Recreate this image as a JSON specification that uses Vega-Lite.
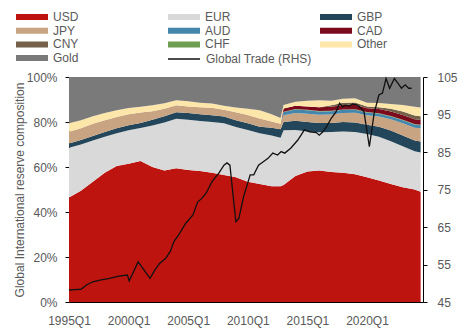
{
  "$schema": "https://vega.github.io/schema/vega-lite/v6.json",
  "width": 354,
  "height": 225,
  "autosize": {"type": "none"},
  "padding": {"left": 69, "top": 77, "right": 53, "bottom": 32},
  "config": {
    "view": {"stroke": null},
    "font": "Liberation Sans",
    "axis": {"labelFont": "Liberation Sans", "labelFontSize": 12, "labelColor": "#595959", "grid": false, "domainColor": "#000000", "tickColor": "#000000", "titleFont": "Liberation Sans", "titleFontSize": 12, "titleColor": "#595959", "titleFontWeight": "normal"},
    "legend": {"labelFont": "Liberation Sans", "labelFontSize": 12, "labelColor": "#595959", "padding": 0}
  },
  "datasets": {
    "meta": [
      {"s": "USD", "o": 1}, {"s": "EUR", "o": 2}, {"s": "GBP", "o": 3}, {"s": "JPY", "o": 4}, {"s": "AUD", "o": 5},
      {"s": "CHF", "o": 6}, {"s": "CAD", "o": 7}, {"s": "CNY", "o": 8}, {"s": "Other", "o": 9}, {"s": "Gold", "o": 10}
    ]
  },
  "encoding": {
    "x": {"field": "t", "type": "quantitative", "scale": {"domain": [1995, 2024.7], "nice": false, "zero": false},
      "axis": {"values": [1995, 2000, 2005, 2010, 2015, 2020], "labelExpr": "datum.value + 'Q1'", "ticks": false, "labelPadding": 13, "labelFlush": false, "title": null}}
  },
  "layer": [
    {
      "data": {"values": [
        {"t":1995,"s":"USD","v":46.5},{"t":1995,"s":"EUR","v":22.1},{"t":1995,"s":"GBP","v":1.9},{"t":1995,"s":"JPY","v":5.2},{"t":1995,"s":"AUD","v":0},{"t":1995,"s":"CHF","v":0},{"t":1995,"s":"CAD","v":0},{"t":1995,"s":"CNY","v":0},{"t":1995,"s":"Other","v":3.7},{"t":1995,"s":"Gold","v":20.6},
        {"t":1996,"s":"USD","v":49.5},{"t":1996,"s":"EUR","v":20.5},{"t":1996,"s":"GBP","v":2},{"t":1996,"s":"JPY","v":5.2},{"t":1996,"s":"AUD","v":0},{"t":1996,"s":"CHF","v":0},{"t":1996,"s":"CAD","v":0},{"t":1996,"s":"CNY","v":0},{"t":1996,"s":"Other","v":3.6},{"t":1996,"s":"Gold","v":19.2},
        {"t":1997,"s":"USD","v":53.5},{"t":1997,"s":"EUR","v":18.3},{"t":1997,"s":"GBP","v":2},{"t":1997,"s":"JPY","v":5.4},{"t":1997,"s":"AUD","v":0},{"t":1997,"s":"CHF","v":0},{"t":1997,"s":"CAD","v":0},{"t":1997,"s":"CNY","v":0},{"t":1997,"s":"Other","v":3.4},{"t":1997,"s":"Gold","v":17.4},
        {"t":1998,"s":"USD","v":57.5},{"t":1998,"s":"EUR","v":16},{"t":1998,"s":"GBP","v":2.1},{"t":1998,"s":"JPY","v":5.2},{"t":1998,"s":"AUD","v":0},{"t":1998,"s":"CHF","v":0},{"t":1998,"s":"CAD","v":0},{"t":1998,"s":"CNY","v":0},{"t":1998,"s":"Other","v":3.2},{"t":1998,"s":"Gold","v":16},
        {"t":1999,"s":"USD","v":60.5},{"t":1999,"s":"EUR","v":14.5},{"t":1999,"s":"GBP","v":2.2},{"t":1999,"s":"JPY","v":5},{"t":1999,"s":"AUD","v":0},{"t":1999,"s":"CHF","v":0},{"t":1999,"s":"CAD","v":0},{"t":1999,"s":"CNY","v":0},{"t":1999,"s":"Other","v":3},{"t":1999,"s":"Gold","v":14.8},
        {"t":2000,"s":"USD","v":61.5},{"t":2000,"s":"EUR","v":14.8},{"t":2000,"s":"GBP","v":2.3},{"t":2000,"s":"JPY","v":4.8},{"t":2000,"s":"AUD","v":0},{"t":2000,"s":"CHF","v":0},{"t":2000,"s":"CAD","v":0},{"t":2000,"s":"CNY","v":0},{"t":2000,"s":"Other","v":2.8},{"t":2000,"s":"Gold","v":13.8},
        {"t":2001,"s":"USD","v":62.7},{"t":2001,"s":"EUR","v":14.6},{"t":2001,"s":"GBP","v":2.3},{"t":2001,"s":"JPY","v":4.6},{"t":2001,"s":"AUD","v":0},{"t":2001,"s":"CHF","v":0},{"t":2001,"s":"CAD","v":0},{"t":2001,"s":"CNY","v":0},{"t":2001,"s":"Other","v":2.6},{"t":2001,"s":"Gold","v":13.2},
        {"t":2002,"s":"USD","v":60},{"t":2002,"s":"EUR","v":18.5},{"t":2002,"s":"GBP","v":2.5},{"t":2002,"s":"JPY","v":3.8},{"t":2002,"s":"AUD","v":0},{"t":2002,"s":"CHF","v":0},{"t":2002,"s":"CAD","v":0},{"t":2002,"s":"CNY","v":0},{"t":2002,"s":"Other","v":2.7},{"t":2002,"s":"Gold","v":12.5},
        {"t":2003,"s":"USD","v":58.5},{"t":2003,"s":"EUR","v":21.3},{"t":2003,"s":"GBP","v":2.8},{"t":2003,"s":"JPY","v":3.3},{"t":2003,"s":"AUD","v":0},{"t":2003,"s":"CHF","v":0},{"t":2003,"s":"CAD","v":0},{"t":2003,"s":"CNY","v":0},{"t":2003,"s":"Other","v":2.4},{"t":2003,"s":"Gold","v":11.7},
        {"t":2004,"s":"USD","v":59.5},{"t":2004,"s":"EUR","v":21.9},{"t":2004,"s":"GBP","v":2.9},{"t":2004,"s":"JPY","v":3.1},{"t":2004,"s":"AUD","v":0},{"t":2004,"s":"CHF","v":0},{"t":2004,"s":"CAD","v":0},{"t":2004,"s":"CNY","v":0},{"t":2004,"s":"Other","v":2.3},{"t":2004,"s":"Gold","v":10.3},
        {"t":2005,"s":"USD","v":58.7},{"t":2005,"s":"EUR","v":22.3},{"t":2005,"s":"GBP","v":3},{"t":2005,"s":"JPY","v":2.9},{"t":2005,"s":"AUD","v":0},{"t":2005,"s":"CHF","v":0},{"t":2005,"s":"CAD","v":0},{"t":2005,"s":"CNY","v":0},{"t":2005,"s":"Other","v":2.3},{"t":2005,"s":"Gold","v":10.8},
        {"t":2006,"s":"USD","v":58.2},{"t":2006,"s":"EUR","v":22.3},{"t":2006,"s":"GBP","v":3},{"t":2006,"s":"JPY","v":3.1},{"t":2006,"s":"AUD","v":0},{"t":2006,"s":"CHF","v":0},{"t":2006,"s":"CAD","v":0},{"t":2006,"s":"CNY","v":0},{"t":2006,"s":"Other","v":2},{"t":2006,"s":"Gold","v":11.4},
        {"t":2007,"s":"USD","v":57.5},{"t":2007,"s":"EUR","v":22.5},{"t":2007,"s":"GBP","v":3},{"t":2007,"s":"JPY","v":3.3},{"t":2007,"s":"AUD","v":0},{"t":2007,"s":"CHF","v":0},{"t":2007,"s":"CAD","v":0},{"t":2007,"s":"CNY","v":0},{"t":2007,"s":"Other","v":1.9},{"t":2007,"s":"Gold","v":11.8},
        {"t":2008,"s":"USD","v":56.5},{"t":2008,"s":"EUR","v":22.9},{"t":2008,"s":"GBP","v":3},{"t":2008,"s":"JPY","v":3},{"t":2008,"s":"AUD","v":0},{"t":2008,"s":"CHF","v":0},{"t":2008,"s":"CAD","v":0},{"t":2008,"s":"CNY","v":0},{"t":2008,"s":"Other","v":1.8},{"t":2008,"s":"Gold","v":12.8},
        {"t":2009,"s":"USD","v":55.5},{"t":2009,"s":"EUR","v":22.3},{"t":2009,"s":"GBP","v":3},{"t":2009,"s":"JPY","v":3.5},{"t":2009,"s":"AUD","v":0},{"t":2009,"s":"CHF","v":0},{"t":2009,"s":"CAD","v":0},{"t":2009,"s":"CNY","v":0},{"t":2009,"s":"Other","v":2.1},{"t":2009,"s":"Gold","v":13.6},
        {"t":2010,"s":"USD","v":53.5},{"t":2010,"s":"EUR","v":23},{"t":2010,"s":"GBP","v":2.9},{"t":2010,"s":"JPY","v":3.7},{"t":2010,"s":"AUD","v":0},{"t":2010,"s":"CHF","v":0},{"t":2010,"s":"CAD","v":0},{"t":2010,"s":"CNY","v":0},{"t":2010,"s":"Other","v":2.8},{"t":2010,"s":"Gold","v":14.1},
        {"t":2011,"s":"USD","v":52.5},{"t":2011,"s":"EUR","v":22.5},{"t":2011,"s":"GBP","v":2.9},{"t":2011,"s":"JPY","v":3.7},{"t":2011,"s":"AUD","v":0},{"t":2011,"s":"CHF","v":0},{"t":2011,"s":"CAD","v":0},{"t":2011,"s":"CNY","v":0},{"t":2011,"s":"Other","v":3.6},{"t":2011,"s":"Gold","v":14.8},
        {"t":2012,"s":"USD","v":51.5},{"t":2012,"s":"EUR","v":22.5},{"t":2012,"s":"GBP","v":3.4},{"t":2012,"s":"JPY","v":2.8},{"t":2012,"s":"AUD","v":0},{"t":2012,"s":"CHF","v":0},{"t":2012,"s":"CAD","v":0},{"t":2012,"s":"CNY","v":0},{"t":2012,"s":"Other","v":3.2},{"t":2012,"s":"Gold","v":16.6},
        {"t":2012.75,"s":"USD","v":51.5},{"t":2012.75,"s":"EUR","v":21.5},{"t":2012.75,"s":"GBP","v":3.8},{"t":2012.75,"s":"JPY","v":2.4},{"t":2012.75,"s":"AUD","v":0},{"t":2012.75,"s":"CHF","v":0},{"t":2012.75,"s":"CAD","v":0},{"t":2012.75,"s":"CNY","v":0},{"t":2012.75,"s":"Other","v":2.6},{"t":2012.75,"s":"Gold","v":18.2},
        {"t":2013,"s":"USD","v":52},{"t":2013,"s":"EUR","v":24.3},{"t":2013,"s":"GBP","v":3.7},{"t":2013,"s":"JPY","v":3},{"t":2013,"s":"AUD","v":1.4},{"t":2013,"s":"CHF","v":0.2},{"t":2013,"s":"CAD","v":1.4},{"t":2013,"s":"CNY","v":0},{"t":2013,"s":"Other","v":1.6},{"t":2013,"s":"Gold","v":12.4},
        {"t":2014,"s":"USD","v":56},{"t":2014,"s":"EUR","v":20.4},{"t":2014,"s":"GBP","v":4.2},{"t":2014,"s":"JPY","v":3.4},{"t":2014,"s":"AUD","v":1.6},{"t":2014,"s":"CHF","v":0.2},{"t":2014,"s":"CAD","v":1.4},{"t":2014,"s":"CNY","v":0},{"t":2014,"s":"Other","v":1.8},{"t":2014,"s":"Gold","v":11},
        {"t":2015,"s":"USD","v":58},{"t":2015,"s":"EUR","v":17.8},{"t":2015,"s":"GBP","v":4.2},{"t":2015,"s":"JPY","v":3.7},{"t":2015,"s":"AUD","v":1.5},{"t":2015,"s":"CHF","v":0.2},{"t":2015,"s":"CAD","v":1.5},{"t":2015,"s":"CNY","v":0},{"t":2015,"s":"Other","v":2.5},{"t":2015,"s":"Gold","v":10.6},
        {"t":2016,"s":"USD","v":58.5},{"t":2016,"s":"EUR","v":17},{"t":2016,"s":"GBP","v":4.1},{"t":2016,"s":"JPY","v":3.6},{"t":2016,"s":"AUD","v":1.5},{"t":2016,"s":"CHF","v":0.2},{"t":2016,"s":"CAD","v":1.7},{"t":2016,"s":"CNY","v":0},{"t":2016,"s":"Other","v":3.1},{"t":2016,"s":"Gold","v":10.3},
        {"t":2017,"s":"USD","v":57.8},{"t":2017,"s":"EUR","v":17.8},{"t":2017,"s":"GBP","v":4},{"t":2017,"s":"JPY","v":3.7},{"t":2017,"s":"AUD","v":1.5},{"t":2017,"s":"CHF","v":0.2},{"t":2017,"s":"CAD","v":1.8},{"t":2017,"s":"CNY","v":0.6},{"t":2017,"s":"Other","v":2},{"t":2017,"s":"Gold","v":10.6},
        {"t":2018,"s":"USD","v":57.5},{"t":2018,"s":"EUR","v":18.3},{"t":2018,"s":"GBP","v":4.2},{"t":2018,"s":"JPY","v":4},{"t":2018,"s":"AUD","v":1.4},{"t":2018,"s":"CHF","v":0.2},{"t":2018,"s":"CAD","v":2},{"t":2018,"s":"CNY","v":1},{"t":2018,"s":"Other","v":1.7},{"t":2018,"s":"Gold","v":9.7},
        {"t":2019,"s":"USD","v":56.8},{"t":2019,"s":"EUR","v":18.8},{"t":2019,"s":"GBP","v":4.2},{"t":2019,"s":"JPY","v":4.3},{"t":2019,"s":"AUD","v":1.4},{"t":2019,"s":"CHF","v":0.2},{"t":2019,"s":"CAD","v":2},{"t":2019,"s":"CNY","v":1},{"t":2019,"s":"Other","v":1.9},{"t":2019,"s":"Gold","v":9.4},
        {"t":2020,"s":"USD","v":55.5},{"t":2020,"s":"EUR","v":19.2},{"t":2020,"s":"GBP","v":4.1},{"t":2020,"s":"JPY","v":4.2},{"t":2020,"s":"AUD","v":1.2},{"t":2020,"s":"CHF","v":0.2},{"t":2020,"s":"CAD","v":1.7},{"t":2020,"s":"CNY","v":0.8},{"t":2020,"s":"Other","v":1.7},{"t":2020,"s":"Gold","v":11.4},
        {"t":2021,"s":"USD","v":54},{"t":2021,"s":"EUR","v":19.5},{"t":2021,"s":"GBP","v":4.4},{"t":2021,"s":"JPY","v":4.5},{"t":2021,"s":"AUD","v":1.3},{"t":2021,"s":"CHF","v":0.2},{"t":2021,"s":"CAD","v":1.9},{"t":2021,"s":"CNY","v":0.8},{"t":2021,"s":"Other","v":1.9},{"t":2021,"s":"Gold","v":11.5},
        {"t":2022,"s":"USD","v":52.5},{"t":2022,"s":"EUR","v":19},{"t":2022,"s":"GBP","v":4.7},{"t":2022,"s":"JPY","v":5},{"t":2022,"s":"AUD","v":1.3},{"t":2022,"s":"CHF","v":0.2},{"t":2022,"s":"CAD","v":2},{"t":2022,"s":"CNY","v":1.2},{"t":2022,"s":"Other","v":2.1},{"t":2022,"s":"Gold","v":12},
        {"t":2023,"s":"USD","v":51},{"t":2023,"s":"EUR","v":18.2},{"t":2023,"s":"GBP","v":4.8},{"t":2023,"s":"JPY","v":5.5},{"t":2023,"s":"AUD","v":1.3},{"t":2023,"s":"CHF","v":0.2},{"t":2023,"s":"CAD","v":2.1},{"t":2023,"s":"CNY","v":1.6},{"t":2023,"s":"Other","v":2.9},{"t":2023,"s":"Gold","v":12.4},
        {"t":2024,"s":"USD","v":50},{"t":2024,"s":"EUR","v":17},{"t":2024,"s":"GBP","v":4.8},{"t":2024,"s":"JPY","v":5.7},{"t":2024,"s":"AUD","v":1.4},{"t":2024,"s":"CHF","v":0.2},{"t":2024,"s":"CAD","v":2.1},{"t":2024,"s":"CNY","v":1.7},{"t":2024,"s":"Other","v":3.9},{"t":2024,"s":"Gold","v":13.2},
        {"t":2024.5,"s":"USD","v":49},{"t":2024.5,"s":"EUR","v":17.5},{"t":2024.5,"s":"GBP","v":4.8},{"t":2024.5,"s":"JPY","v":5.9},{"t":2024.5,"s":"AUD","v":1.4},{"t":2024.5,"s":"CHF","v":0.2},{"t":2024.5,"s":"CAD","v":2.1},{"t":2024.5,"s":"CNY","v":1.7},{"t":2024.5,"s":"Other","v":3.9},{"t":2024.5,"s":"Gold","v":13.5}
      ]},
      "transform": [{"lookup": "s", "from": {"data": {"name": "meta"}, "key": "s", "fields": ["o"]}}],
      "mark": {"type": "area", "interpolate": "linear"},
      "encoding": {
        "y": {"field": "v", "type": "quantitative", "stack": "zero", "scale": {"domain": [0, 100], "nice": false},
          "axis": {"orient": "left", "values": [0, 20, 40, 60, 80, 100], "labelExpr": "datum.value + '%'", "title": "Global International reserve composition", "tickSize": 4, "labelPadding": 8, "titlePadding": 0}},
        "color": {"field": "s", "type": "nominal",
          "scale": {"domain": ["USD", "EUR", "GBP", "JPY", "AUD", "CAD", "CNY", "CHF", "Other", "Gold"],
            "range": ["#BE1410", "#D9D9D9", "#23465A", "#C9A482", "#4486AC", "#7B0A1C", "#75604A", "#6E9E52", "#FDE6A9", "#7A7A7A"]},
          "legend": {"orient": "none", "direction": "horizontal", "legendX": -43, "legendY": -66, "columns": 3, "title": null, "gridAlign": "all",
            "symbolType": "M-2.667,-0.5H2.667V0.5H-2.667Z", "symbolSize": 144, "symbolStrokeWidth": 0,
            "labelOffset": 15, "columnPadding": 83, "rowPadding": 1.7}},
        "order": {"field": "o", "type": "quantitative"}
      }
    },
    {
      "data": {"values": [
        {"t":1995,"g":48.2},{"t":1995.5,"g":48.3},{"t":1996,"g":48.4},{"t":1996.5,"g":49.6},{"t":1997,"g":50.4},{"t":1997.7,"g":50.9},
        {"t":1998.4,"g":51.3},{"t":1999.2,"g":51.9},{"t":1999.9,"g":52.2},{"t":2000.05,"g":50.6},{"t":2000.8,"g":55.7},{"t":2001.8,"g":51.3},
        {"t":2002.2,"g":53.5},{"t":2002.6,"g":55.3},{"t":2003.1,"g":56.6},{"t":2003.5,"g":58.5},{"t":2003.8,"g":61.1},{"t":2004.2,"g":62.9},
        {"t":2004.8,"g":66},{"t":2005.4,"g":68.2},{"t":2005.8,"g":71.7},{"t":2006.1,"g":72.5},{"t":2006.5,"g":74},{"t":2007,"g":77.1},
        {"t":2007.6,"g":79.5},{"t":2008,"g":81.5},{"t":2008.25,"g":82.1},{"t":2008.5,"g":81.5},{"t":2009,"g":66.4},{"t":2009.25,"g":67.3},
        {"t":2009.65,"g":73.1},{"t":2010.2,"g":78.9},{"t":2010.5,"g":78.9},{"t":2010.9,"g":81.5},{"t":2011.3,"g":82.4},{"t":2011.7,"g":83.3},
        {"t":2012.1,"g":84.7},{"t":2012.5,"g":84.2},{"t":2012.8,"g":85.1},{"t":2013.1,"g":84.7},{"t":2013.6,"g":86},{"t":2014.2,"g":88.2},
        {"t":2014.75,"g":90.9},{"t":2015.2,"g":90.4},{"t":2015.75,"g":90.2},{"t":2016,"g":89.5},{"t":2016.3,"g":90.4},{"t":2016.6,"g":91.7},
        {"t":2017,"g":94},{"t":2017.4,"g":95.7},{"t":2017.7,"g":98},{"t":2017.95,"g":97.1},{"t":2018.2,"g":97.5},{"t":2018.5,"g":97.2},
        {"t":2018.8,"g":97.8},{"t":2019.2,"g":97.5},{"t":2019.5,"g":96.6},{"t":2019.75,"g":95.7},{"t":2020.2,"g":86.4},{"t":2020.6,"g":95.3},
        {"t":2021,"g":100.2},{"t":2021.3,"g":100.7},{"t":2021.6,"g":104.6},{"t":2021.9,"g":102},{"t":2022.3,"g":104.6},{"t":2022.6,"g":103.3},
        {"t":2022.9,"g":102},{"t":2023.2,"g":102.9},{"t":2023.5,"g":102},{"t":2023.75,"g":102}
      ]},
      "mark": {"type": "line", "strokeWidth": 1.3},
      "encoding": {
        "y": {"field": "g", "type": "quantitative", "scale": {"domain": [45, 105], "nice": false, "zero": false},
          "axis": {"orient": "right", "values": [45, 55, 65, 75, 85, 95, 105], "title": null, "tickSize": 4, "labelPadding": 10}},
        "stroke": {"datum": "Global Trade (RHS)", "type": "nominal", "scale": {"range": ["#111111"]},
          "legend": {"orient": "none", "legendX": 108, "legendY": -25, "title": null,
            "symbolType": "M-2.667,0H2.667", "symbolSize": 144, "symbolStrokeWidth": 1.5, "labelOffset": 15}}
      }
    }
  ],
  "resolve": {"scale": {"y": "independent"}}
}
